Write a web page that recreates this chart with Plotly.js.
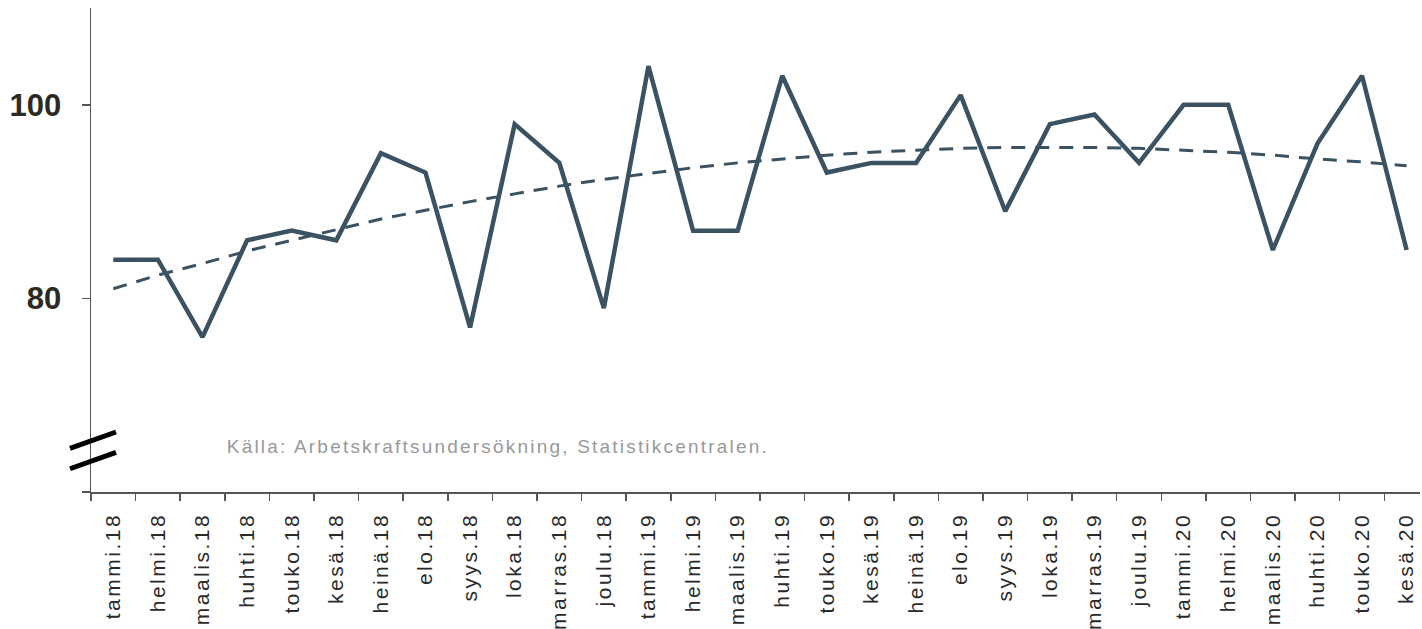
<!DOCTYPE html>
<html>
<head>
<meta charset="utf-8">
<script src="https://cdn.plot.ly/plotly-3.0.1.min.js"></script>
<style>
html,body{margin:0;padding:0;background:#fff;}
#chart{width:1422px;height:629px;}
#chart .xtick text{letter-spacing:2.5px;}
#chart .annotation-text{letter-spacing:2.2px;}
</style>
</head>
<body>
<div id="chart"></div>
<script>
const months = ["tammi.18","helmi.18","maalis.18","huhti.18","touko.18","kesä.18","heinä.18","elo.18","syys.18","loka.18","marras.18","joulu.18",
"tammi.19","helmi.19","maalis.19","huhti.19","touko.19","kesä.19","heinä.19","elo.19","syys.19","loka.19","marras.19","joulu.19",
"tammi.20","helmi.20","maalis.20","huhti.20","touko.20","kesä.20"];
const values = [84,84,76,86,87,86,95,93,77,98,94,79,
104,87,87,103,93,94,94,101,89,98,99,94,
100,100,85,96,103,85];
const trend = [81.0,82.4,83.6,84.9,86.0,87.1,88.2,89.1,90.0,90.8,91.6,92.3,
92.9,93.5,94.0,94.4,94.8,95.1,95.3,95.5,95.6,95.6,95.6,95.5,
95.3,95.1,94.8,94.4,94.1,93.7];
const yTickVals = [60,80,100];
const yTickText = ["","80","100"];
const sourceText = "Källa: Arbetskraftsundersökning, Statistikcentralen.";

const lineColor = "#3b5262";
const data = [
  {x: months, y: values, type: "scatter", mode: "lines", line: {color: lineColor, width: 4.5}, hoverinfo: "skip"},
  {x: months, y: trend, type: "scatter", mode: "lines", line: {color: lineColor, width: 3, dash: "14px,10px"}, hoverinfo: "skip"}
];
const layout = {
  width: 1422, height: 629,
  margin: {l: 91, r: 2, t: 8, b: 137},
  paper_bgcolor: "#fff", plot_bgcolor: "#fff",
  showlegend: false,
  font: {family: "Liberation Sans, Arial, sans-serif"},
  xaxis: {
    type: "category", tickmode: "array", tickvals: months, ticktext: months,
    tickangle: -90, tickfont: {size: 21, color: "#2a2a2a"}, ticklabelstandoff: 11,
    showline: true, linecolor: "#555", linewidth: 1.5,
    ticks: "outside", tickson: "boundaries", ticklen: 7, tickcolor: "#555", tickwidth: 1.5,
    showgrid: false, zeroline: false, range: [-0.5, 29.3]
  },
  yaxis: {
    range: [60, 110], tickmode: "array", tickvals: yTickVals, ticktext: yTickText,
    tickfont: {size: 31, color: "#2d2a22", family: "Liberation Sans, Arial, sans-serif", weight: "bold"},
    ticklabelstandoff: 14,
    showline: true, linecolor: "#555", linewidth: 1.5,
    ticks: "outside", ticklen: 8, tickcolor: "#555", tickwidth: 1.5,
    showgrid: false, zeroline: false
  },
  shapes: [
    {type: "line", xref: "paper", yref: "y", x0: -0.0158, x1: 0.0188, y0: 64.5, y1: 66.2, line: {color: "#000", width: 5}},
    {type: "line", xref: "paper", yref: "y", x0: -0.0158, x1: 0.0188, y0: 62.4, y1: 64.1, line: {color: "#000", width: 5}}
  ],
  annotations: [
    {xref: "paper", yref: "y", x: 0.144, y: 64.7, xanchor: "left", yanchor: "middle", showarrow: false,
     text: sourceText, font: {size: 19, color: "#999"}}
  ]
};
Plotly.newPlot("chart", data, layout, {displayModeBar: false, staticPlot: true});
</script>
</body>
</html>
